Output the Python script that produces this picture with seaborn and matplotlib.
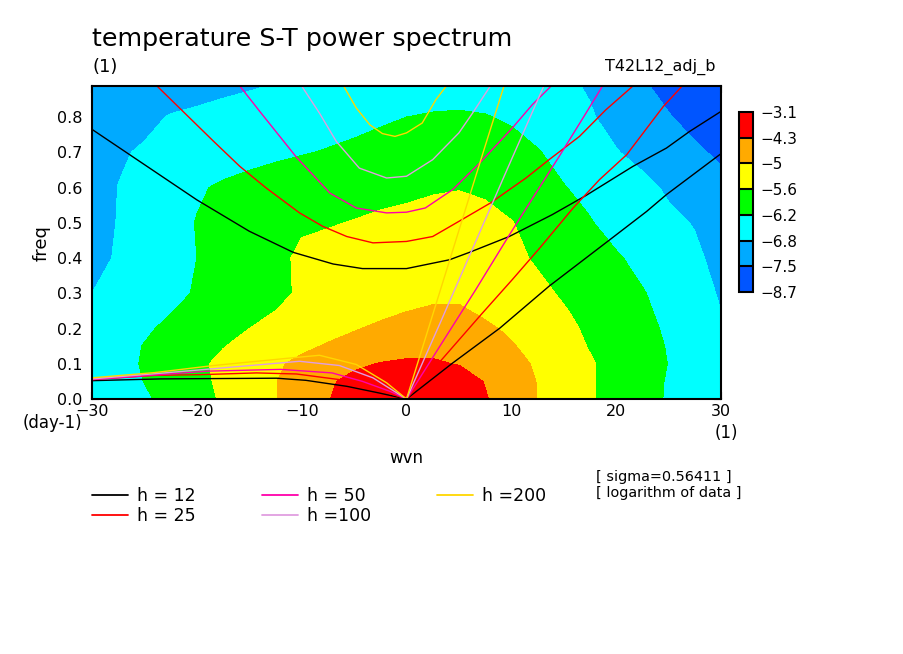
import numpy as np
import pandas as pd
import matplotlib
matplotlib.use("Agg")
import matplotlib.pyplot as plt
import seaborn as sns

wvn_grid = [-30, -27.5, -25, -22.5, -20, -17.5, -15, -12.5, -10, -7.5, -5, -2.5, 0,
            2.5, 5, 7.5, 10, 12.5, 15, 17.5, 20, 22.5, 25, 27.5, 30]
freq_grid = [0, .05, .1, .15, .2, .25, .3, .4, .5, .6, .7, .8, .888]

f000 = [-6.6,-6.45,-6.27,-6.05,-5.78,-5.54,-5.28,-5.02,-4.68,-4.33,-4.0,-3.6,-3.4,-3.45,-3.8,-4.25,-4.63,-5.02,-5.28,-5.55,-5.78,-6.02,-6.25,-6.45,-6.6]
f005 = [-6.6,-6.42,-6.19,-5.96,-5.74,-5.5,-5.26,-5.02,-4.71,-4.4,-4.1,-3.75,-3.6,-3.65,-3.95,-4.33,-4.68,-5.02,-5.3,-5.55,-5.78,-6.01,-6.24,-6.42,-6.58]
f010 = [-6.6,-6.38,-6.15,-5.93,-5.7,-5.49,-5.29,-5.08,-4.87,-4.65,-4.43,-4.27,-4.2,-4.22,-4.33,-4.58,-4.82,-5.07,-5.31,-5.55,-5.77,-5.99,-6.21,-6.4,-6.58]
f015 = [-6.6,-6.38,-6.18,-5.99,-5.81,-5.62,-5.45,-5.28,-5.11,-4.95,-4.8,-4.65,-4.55,-4.48,-4.55,-4.75,-4.96,-5.17,-5.4,-5.63,-5.83,-6.03,-6.23,-6.42,-6.6]
f020 = [-6.65,-6.45,-6.27,-6.1,-5.93,-5.77,-5.6,-5.46,-5.32,-5.18,-5.04,-4.9,-4.78,-4.7,-4.75,-4.92,-5.08,-5.3,-5.5,-5.67,-5.87,-6.07,-6.27,-6.47,-6.66]
f025 = [-6.72,-6.58,-6.42,-6.22,-6.06,-5.91,-5.76,-5.6,-5.49,-5.37,-5.25,-5.13,-5.01,-4.93,-4.94,-5.08,-5.25,-5.41,-5.57,-5.73,-5.93,-6.12,-6.32,-6.56,-6.8]
f030 = [-6.8,-6.64,-6.48,-6.32,-6.16,-6.0,-5.84,-5.69,-5.55,-5.45,-5.35,-5.25,-5.2,-5.13,-5.1,-5.2,-5.35,-5.5,-5.65,-5.83,-6.0,-6.17,-6.37,-6.6,-6.85]
f040 = [-6.95,-6.75,-6.6,-6.42,-6.2,-6.03,-5.87,-5.7,-5.53,-5.45,-5.38,-5.33,-5.3,-5.3,-5.33,-5.4,-5.5,-5.65,-5.82,-5.98,-6.15,-6.33,-6.51,-6.7,-6.97]
f050 = [-7.0,-6.78,-6.6,-6.4,-6.18,-6.05,-5.95,-5.85,-5.65,-5.63,-5.58,-5.52,-5.48,-5.42,-5.4,-5.45,-5.58,-5.78,-5.98,-6.17,-6.37,-6.54,-6.68,-6.83,-7.2]
f060 = [-7.15,-6.79,-6.6,-6.42,-6.26,-6.13,-6.03,-5.95,-5.9,-5.85,-5.8,-5.74,-5.7,-5.65,-5.62,-5.68,-5.83,-6.0,-6.18,-6.33,-6.48,-6.65,-6.88,-7.1,-7.3]
f070 = [-7.25,-6.87,-6.73,-6.62,-6.54,-6.46,-6.38,-6.3,-6.23,-6.17,-6.1,-6.03,-5.95,-5.88,-5.83,-5.88,-6.0,-6.17,-6.36,-6.57,-6.77,-6.97,-7.18,-7.39,-7.62]
f080 = [-7.4,-7.2,-6.95,-6.76,-6.68,-6.6,-6.55,-6.5,-6.45,-6.4,-6.35,-6.27,-6.2,-6.15,-6.13,-6.17,-6.27,-6.42,-6.58,-6.75,-6.98,-7.22,-7.46,-7.72,-7.95]
f088 = [-7.45,-7.35,-7.25,-7.13,-7.03,-6.93,-6.85,-6.77,-6.7,-6.65,-6.6,-6.55,-6.5,-6.46,-6.45,-6.47,-6.52,-6.6,-6.7,-6.85,-7.15,-7.42,-7.7,-7.95,-8.2]
power_rows = [f000, f005, f010, f015, f020, f025, f030, f040, f050, f060, f070, f080, f088]

levels = [-8.7, -7.5, -6.8, -6.2, -5.6, -5, -4.3, -3.1]
level_labels = ["−8.7", "−7.5", "−6.8", "−6.2", "−5.6", "−5", "−4.3", "−3.1"]
band_colors = ["#0055ff", "#00aaff", "#00ffff", "#00ff00", "#ffff00", "#ffaa00", "#ff0000"]

# gravity branch
g12_x = [-30,-26.4,-20,-15,-10.8,-7,-4.2,0,4.1,6,9.8,13.9,17.1,21.6,24.8,27,30]
g12_y = [.765,.693,.565,.476,.416,.383,.37,.37,.395,.416,.461,.523,.577,.66,.712,.759,.816]
g25_x = [-23.8,-18.4,-15.9,-13.4,-10.2,-8,-5.7,-3.2,0,2.5,5,8,11.4,13.6,16.5,19,21.6]
g25_y = [.888,.731,.66,.599,.528,.49,.461,.443,.447,.461,.504,.556,.627,.679,.745,.82,.888]
g50_x = [-15.9,-14,-10.5,-7.3,-4.8,-1.9,0,1.8,4.4,7,10.1,12,13.8]
g50_y = [.888,.816,.686,.584,.542,.528,.53,.542,.594,.67,.769,.835,.888]
g100_x = [-10,-8.3,-6.7,-4.5,-1.9,0,2.5,5,6.3,8]
g100_y = [.888,.811,.731,.655,.627,.632,.679,.755,.811,.888]
g200_x = [-6,-4.8,-3.5,-2.3,-1.1,0,1.5,2.8,3.8]
g200_y = [.888,.826,.778,.753,.745,.755,.783,.849,.888]
# eastward branch
k12_x = [0,4.4,8.9,13.6,19.4,22.9,24.8,30]
k12_y = [0,.102,.201,.32,.452,.532,.58,.696]
k25_x = [0,3.4,7.1,10.1,12.7,15.9,18.4,21,24.5,26.3]
k25_y = [0,.113,.239,.339,.428,.542,.622,.693,.83,.888]
k50_x = [0,3.4,6.6,9.8,13,14.6,17.1,18.7]
k50_y = [0,.16,.31,.465,.615,.69,.81,.888]
k100_x = [0,3.2,6.5,9.8,13.1]
k100_y = [0,.215,.44,.665,.888]
k200_x = [0,2.3,4.6,7,9.3]
k200_y = [0,.22,.44,.67,.888]
# westward branch
r12_x = [-30,-23.5,-12.4,-9.6,-5.7,-2.6,0]
r12_y = [.052,.057,.059,.053,.036,.017,0]
r25_x = [-30,-24,-19.7,-14.3,-10.5,-6.4,-3.2,0]
r25_y = [.055,.067,.069,.074,.071,.055,.031,0]
r50_x = [-30,-23.5,-19,-12,-7.1,-4.2,-1.6,0]
r50_y = [.055,.069,.079,.084,.074,.05,.022,0]
r100_x = [-30,-23.5,-18.4,-10.2,-6.4,-3.2,0]
r100_y = [.057,.073,.086,.107,.095,.06,0]
r200_x = [-30,-24,-18.4,-10.5,-8.3,-4.8,-1.9,0]
r200_y = [.06,.075,.095,.118,.124,.098,.046,0]

h_labels = ["h = 12", "h = 25", "h = 50", "h =100", "h =200"]
h_colors = ["#000000", "#ff0000", "#ff00aa", "#e09ee0", "#ffd700"]

sns.set_theme(style="white")
plt.rcParams.update({"font.family": ["DejaVu Sans"], "axes.unicode_minus": True})

W, H = 904, 654
fig = plt.figure(figsize=(W / 100, H / 100), dpi=100, facecolor="white")
ax = fig.add_axes([92 / W, 1 - 399 / H, 629 / W, 313 / H])


def ptext(x, y, s, **kw):
    kw.setdefault("color", "black")
    fig.text(x / W, 1 - y / H, s, **kw)


Z = np.array(power_rows)
cf = ax.contourf(wvn_grid, freq_grid, Z, levels=levels, colors=band_colors, antialiased=False, zorder=1)

rows = []
branches = [
    ("g", [g12_x, g25_x, g50_x, g100_x, g200_x], [g12_y, g25_y, g50_y, g100_y, g200_y]),
    ("k", [k12_x, k25_x, k50_x, k100_x, k200_x], [k12_y, k25_y, k50_y, k100_y, k200_y]),
    ("r", [r12_x, r25_x, r50_x, r100_x, r200_x], [r12_y, r25_y, r50_y, r100_y, r200_y]),
]
for name, xs, ys in branches:
    for label, x, y in zip(h_labels, xs, ys):
        rows.append(pd.DataFrame({"wvn": x, "freq": y, "h": label, "branch": name + label}))
df = pd.concat(rows, ignore_index=True)

sns.lineplot(data=df, x="wvn", y="freq", hue="h", units="branch", estimator=None, sort=False,
             hue_order=h_labels, palette=dict(zip(h_labels, h_colors)), linewidth=1.0,
             ax=ax, zorder=3, legend="full")

ax.set_xlim(-30, 30)
ax.set_ylim(0, 0.888)
ax.set_xlabel("")
ax.set_ylabel("")
ax.set_xticks(np.arange(-30, 31, 10))
ax.set_xticks(np.arange(-30, 31, 2), minor=True)
ax.set_yticks(np.arange(0, 0.81, 0.1))
ax.set_yticks(np.arange(0, 0.881, 0.05), minor=True)
ax.set_yticklabels([f"{v:.1f}" for v in np.arange(0, 0.81, 0.1)])
ax.tick_params(which="major", direction="in", length=5, width=1.5, top=True, right=True,
               left=True, bottom=True, labelsize=11.5, colors="black")
ax.tick_params(axis="x", which="major", pad=3.5)
ax.tick_params(axis="y", which="major", pad=7)
ax.tick_params(which="minor", direction="in", length=2.5, width=1.2, top=True, right=True,
               left=True, bottom=True)
for s in ax.spines.values():
    s.set_linewidth(1.5)
    s.set_color("black")
    s.set_visible(True)
    s.set_zorder(5)

handles, labels = ax.get_legend_handles_labels()
leg = ax.legend(handles, labels, ncol=3, frameon=False, fontsize=12.5, loc="upper left",
                bbox_to_anchor=(0, -0.28), borderaxespad=0, borderpad=0, handlelength=2.07,
                handletextpad=0.52, columnspacing=3.8, labelspacing=0.15, labelcolor="black")
for line in leg.get_lines():
    line.set_linewidth(1.3)

cax = fig.add_axes([739 / W, 1 - 292 / H, 14 / W, 180 / H])
cb = fig.colorbar(cf, cax=cax, spacing="uniform", drawedges=True)
cb.set_ticks(levels)
cb.set_ticklabels(level_labels)
cb.ax.tick_params(length=0, labelsize=11, pad=5, colors="black")
cb.outline.set_linewidth(1.5)
cb.outline.set_edgecolor("black")
cb.dividers.set_linewidth(1.5)
cb.dividers.set_color("black")

ptext(92, 46, "temperature S-T power spectrum", fontsize=18.3)
ptext(92, 72, "(1)", fontsize=13)
ptext(716, 71, "T42L12_adj_b", fontsize=11.5, ha="right")
ptext(23, 428, "(day-1)", fontsize=12)
ptext(738, 438, "(1)", fontsize=12, ha="right")
ptext(406, 463, "wvn", fontsize=12, ha="center")
ptext(42, 243, "freq", fontsize=13, rotation=90, ha="center", va="center")
ptext(596, 481, "[ sigma=0.56411 ]", fontsize=10.4)
ptext(596, 497, "[ logarithm of data ]", fontsize=10.4)

fig.savefig("out.png", dpi=100, facecolor="white")
